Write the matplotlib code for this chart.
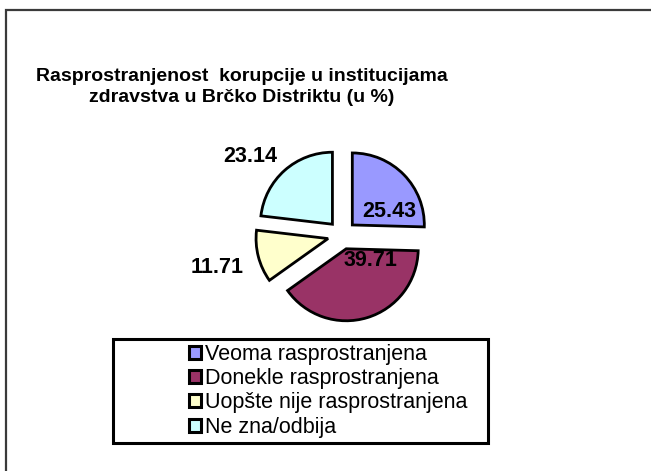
import numpy as np
import matplotlib.pyplot as plt
from matplotlib.patches import Rectangle

# data
categories = ['Veoma rasprostranjena', 'Donekle rasprostranjena',
              'Uopšte nije rasprostranjena', 'Ne zna/odbija']
values = [25.43, 39.71, 11.71, 23.14]
colors = ['#9999FF', '#993366', '#FFFFCC', '#CCFFFF']
title = 'Rasprostranjenost  korupcije u institucijama\nzdravstva u Brčko Distriktu (u %)'

# label placement relative to each wedge (distance in radii, angle shift in deg)
label_r = [0.55, 0.37, 1.59, 1.48]
label_shift = [-25, 48, 0, 9]

W, H = 651, 471
fig = plt.figure(figsize=(W / 100, H / 100), dpi=100)
plt.rcParams['font.family'] = ['Liberation Sans', 'DejaVu Sans']

def fx(px):
    return px / W

def fy(py):
    return 1 - py / H

# outer chart frame (runs off the right and bottom edges)
fig.patches.append(Rectangle((fx(6), fy(480)), fx(700), fy(10) - fy(480),
                             transform=fig.transFigure, fill=False,
                             edgecolor='#3a3a3a', lw=1.6, clip_on=False))

fig.text(fx(242), fy(87), title, ha='center', va='center',
         fontsize=14, fontweight='bold', linespacing=1.3)

# pie axes: square 200x200 px centred at (342, 235)
cx, cy, half = 342, 235, 100
ax = fig.add_axes([fx(cx - half), fy(cy + half), fx(2 * half), (2 * half) / H])
wedges, _ = ax.pie(values, colors=colors, startangle=90, counterclock=False,
                   explode=[0.2] * 4,
                   wedgeprops=dict(edgecolor='black', linewidth=2.0))
lim = half / 72
ax.set_xlim(-lim, lim)
ax.set_ylim(-lim, lim)
ax.set_aspect('equal')
ax.axis('off')

for w, v, r, s in zip(wedges, values, label_r, label_shift):
    mid = np.deg2rad((w.theta1 + w.theta2) / 2 + s)
    x0, y0 = w.center
    ax.text(x0 + r * np.cos(mid), y0 + r * np.sin(mid), f'{v:.2f}',
            ha='center', va='center', fontsize=15.5, fontweight='bold')

# legend with wide box
fig.patches.append(Rectangle((fx(113), fy(443)), fx(488 - 113), fy(339) - fy(443),
                             transform=fig.transFigure, fill=False,
                             edgecolor='black', lw=2.2))
handles = [Rectangle((0, 0), 1, 1, facecolor=c, edgecolor='black', lw=2.2)
           for c in colors]
fig.legend(handles, categories, loc='upper left',
           bbox_to_anchor=(fx(189), fy(344)), frameon=False,
           fontsize=15.5, handlelength=0.55, handleheight=0.55,
           handletextpad=0.2, labelspacing=0.15, borderpad=0, borderaxespad=0)

plt.savefig('out.png', dpi=100)
